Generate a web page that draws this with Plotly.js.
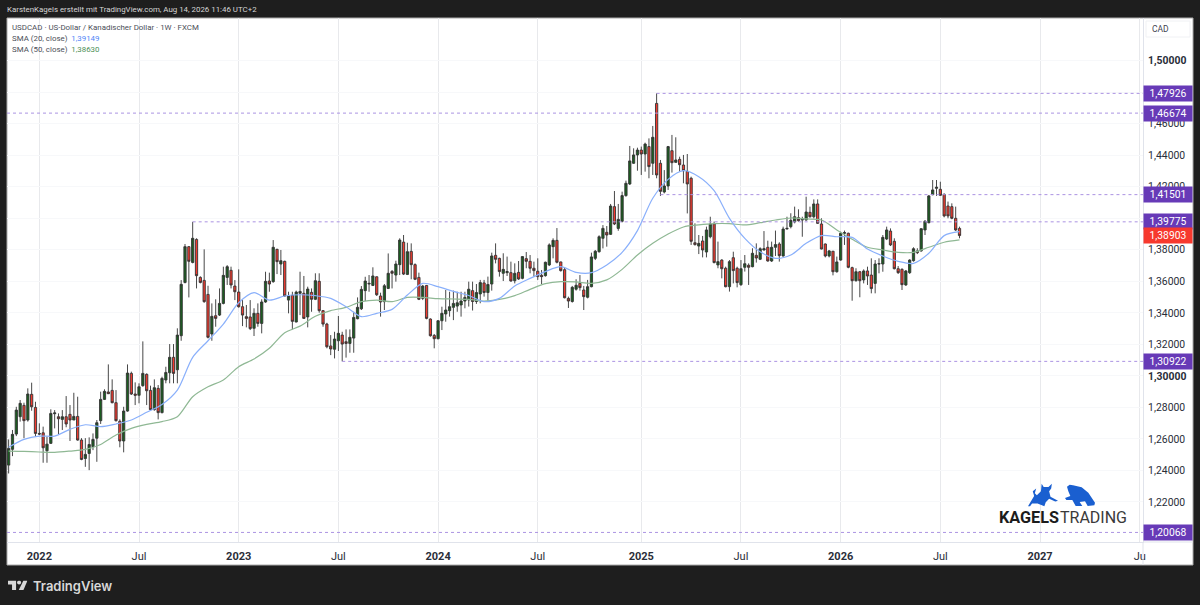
<!DOCTYPE html>
<html>
<head>
<meta charset="utf-8">
<script src="https://cdn.plot.ly/plotly-3.0.1.min.js"></script>
<style>html,body{margin:0;padding:0;background:#1e1e1e}#plot{width:1200px;height:605px}</style>
</head>
<body>
<div id="plot"></div>
<script>
// weekly USDCAD candles
const firstWeek = '2021-11-08';

const opens = [
  1.2434,1.2534,1.2631,1.2741,1.2813,1.2720,1.2883,1.2800,1.2635,1.2639,
  1.2525,1.2572,1.2760,1.2741,1.2724,1.2741,1.2756,1.2720,1.2743,1.2593,
  1.2476,1.2508,1.2551,1.2605,1.2716,1.2851,1.2898,1.2908,1.2830,1.2712,
  1.2587,1.2777,1.3016,1.2885,1.2877,1.2938,1.3010,1.2908,1.2786,1.2921,
  1.2767,1.2974,1.3020,1.3118,1.3039,1.3255,1.3593,1.3820,1.3720,1.3866,
  1.3625,1.3606,1.3517,1.3266,1.3382,1.3386,1.3460,1.3625,1.3670,1.3570,
  1.3532,1.3439,1.3376,1.3374,1.3302,1.3397,1.3333,1.3469,1.3602,1.3598,
  1.3803,1.3710,1.3727,1.3481,1.3511,1.3342,1.3524,1.3524,1.3374,1.3530,
  1.3486,1.3600,1.3414,1.3329,1.3190,1.3169,1.3223,1.3259,1.3217,1.3206,
  1.3240,1.3363,1.3426,1.3541,1.3583,1.3574,1.3629,1.3507,1.3471,1.3555,
  1.3663,1.3640,1.3706,1.3849,1.3644,1.3790,1.3706,1.3625,1.3492,1.3574,
  1.3361,1.3257,1.3236,1.3350,1.3393,1.3414,1.3435,1.3443,1.3450,1.3475,
  1.3482,1.3541,1.3472,1.3520,1.3590,1.3529,1.3583,1.3765,1.3746,1.3651,
  1.3655,1.3655,1.3604,1.3657,1.3619,1.3744,1.3727,1.3683,1.3664,1.3638,
  1.3636,1.3704,1.3820,1.3860,1.3723,1.3674,1.3492,1.3472,1.3550,1.3587,
  1.3545,1.3499,1.3566,1.3746,1.3788,1.3873,1.3911,1.3898,1.4074,1.3936,
  1.3981,1.4144,1.4218,1.4349,1.4402,1.4433,1.4408,1.4455,1.4349,1.4729,
  1.4349,1.4167,1.4205,1.4429,1.4355,1.4374,1.4338,1.4298,1.4254,1.3845,
  1.3824,1.3856,1.3786,1.3883,1.3964,1.3704,1.3735,1.3683,1.3566,1.3750,
  1.3683,1.3579,1.3689,1.3702,1.3693,1.3765,1.3740,1.3799,1.3816,1.3729,
  1.3816,1.3837,1.3761,1.3932,1.3947,1.3977,1.4004,1.3989,1.3989,1.4038,
  1.4010,1.4091,1.3964,1.3837,1.3761,1.3791,1.3661,1.3735,1.3905,1.3905,
  1.3687,1.3604,1.3661,1.3609,1.3666,1.3640,1.3587,1.3710,1.3710,1.3869,
  1.3919,1.3854,1.3680,1.3676,1.3577,1.3655,1.3731,1.3793,1.3793,1.3926,
  1.3972,1.4150,1.4190,1.4184,1.4152,1.4078,1.4074,1.4000,1.3936
];
const highs = [
  1.2597,1.2657,1.2804,1.2847,1.2830,1.2921,1.2957,1.2836,1.2699,1.2678,
  1.2614,1.2788,1.2783,1.2762,1.2783,1.2872,1.2815,1.2893,1.2868,1.2605,
  1.2605,1.2610,1.2635,1.2720,1.2900,1.2915,1.3073,1.2978,1.2910,1.2724,
  1.2804,1.3073,1.3027,1.2959,1.2953,1.3219,1.3016,1.2938,1.2978,1.2942,
  1.2995,1.3058,1.3202,1.3202,1.3302,1.3608,1.3837,1.3824,1.39775,1.3873,
  1.3632,1.3803,1.3572,1.3460,1.3486,1.3555,1.3693,1.3703,1.3693,1.3608,
  1.3676,1.3481,1.3450,1.3481,1.3429,1.3460,1.3486,1.3661,1.3655,1.3862,
  1.3807,1.3799,1.3731,1.3534,1.3534,1.3541,1.3661,1.3634,1.3566,1.3555,
  1.3651,1.3651,1.3418,1.3337,1.3259,1.3280,1.3380,1.3280,1.3295,1.3295,
  1.3407,1.3498,1.3570,1.3629,1.3640,1.3689,1.3631,1.3528,1.3583,1.3777,
  1.3672,1.3731,1.3873,1.3894,1.3845,1.3841,1.3714,1.3655,1.3577,1.3577,
  1.3365,1.3266,1.3354,1.3439,1.3545,1.3534,1.3541,1.3534,1.3534,1.3534,
  1.3598,1.3598,1.3583,1.3609,1.3609,1.3630,1.3782,1.3841,1.3750,1.3778,
  1.3757,1.3725,1.3714,1.3729,1.3760,1.3786,1.3767,1.3725,1.3746,1.3672,
  1.3725,1.3841,1.3873,1.3938,1.3725,1.3689,1.3503,1.3571,1.3613,1.3640,
  1.3571,1.3609,1.3782,1.3799,1.3892,1.3957,1.3951,1.4091,1.4173,1.4091,
  1.4169,1.4239,1.4459,1.4444,1.4448,1.4455,1.4480,1.4507,1.4586,1.47926,
  1.4370,1.4306,1.4459,1.4529,1.4514,1.4391,1.4402,1.4408,1.4264,1.3968,
  1.3894,1.3888,1.3947,1.4010,1.3979,1.3852,1.3740,1.3693,1.3735,1.3788,
  1.3693,1.3735,1.3767,1.3714,1.3810,1.3841,1.3816,1.3919,1.3858,1.3852,
  1.3922,1.3848,1.3947,1.4010,1.4032,1.4074,1.4057,1.4010,1.4137,1.4074,
  1.4120,1.4120,1.4000,1.3840,1.3799,1.3793,1.3757,1.3915,1.3922,1.3909,
  1.3693,1.3683,1.3666,1.3676,1.3693,1.3746,1.3735,1.3746,1.3894,1.3947,
  1.3936,1.3873,1.3697,1.3683,1.3672,1.3740,1.3816,1.3810,1.3936,1.3989,
  1.4148,1.4243,1.4243,1.4232,1.4158,1.4106,1.4095,1.4074,1.3947
];
const lows = [
  1.2381,1.2491,1.2618,1.2710,1.2605,1.2710,1.2779,1.2614,1.2625,1.2449,
  1.2449,1.2568,1.2667,1.2629,1.2657,1.2674,1.2587,1.2720,1.2589,1.2465,
  1.2423,1.2402,1.2529,1.2455,1.2695,1.2847,1.2885,1.2826,1.2710,1.2547,
  1.2515,1.2773,1.2879,1.2815,1.2826,1.2931,1.2815,1.2779,1.2779,1.2724,
  1.2762,1.2953,1.2953,1.2953,1.2953,1.3223,1.3587,1.3498,1.3714,1.3555,
  1.3587,1.3464,1.3238,1.3223,1.3312,1.3380,1.3454,1.3577,1.3555,1.3481,
  1.3433,1.3316,1.3308,1.3291,1.3253,1.3312,1.3270,1.3464,1.3534,1.3591,
  1.3646,1.3640,1.3503,1.3397,1.3295,1.3340,1.3386,1.3363,1.3308,1.3407,
  1.3481,1.3401,1.3312,1.3175,1.3132,1.3111,1.3158,1.30922,1.3116,1.3147,
  1.3147,1.3359,1.3418,1.3475,1.3534,1.3570,1.3507,1.3376,1.3418,1.3551,
  1.3555,1.3598,1.3640,1.3640,1.3640,1.3613,1.3608,1.3481,1.3481,1.3359,
  1.3249,1.3175,1.3232,1.3291,1.3344,1.3376,1.3354,1.3407,1.3376,1.3429,
  1.3440,1.3415,1.3457,1.3461,1.3503,1.3478,1.3541,1.3714,1.3630,1.3602,
  1.3634,1.3598,1.3587,1.3609,1.3613,1.3683,1.3651,1.3630,1.3609,1.3583,
  1.3630,1.3697,1.3746,1.3714,1.3662,1.3492,1.3431,1.3465,1.3541,1.3541,
  1.3418,1.3492,1.3562,1.3735,1.3782,1.3809,1.3820,1.3894,1.3957,1.3921,
  1.3974,1.4137,1.4211,1.4345,1.4302,1.4275,1.4296,1.4254,1.4275,1.4254,
  1.4142,1.4158,1.4180,1.4290,1.4353,1.4296,1.4222,1.4031,1.3831,1.3827,
  1.3773,1.3752,1.3752,1.3873,1.3714,1.3683,1.3619,1.3562,1.3535,1.3587,
  1.3562,1.3571,1.3662,1.3577,1.3689,1.3719,1.3735,1.3795,1.3725,1.3723,
  1.3761,1.3725,1.3757,1.3930,1.3936,1.3968,1.3979,1.3883,1.3985,1.4004,
  1.3999,1.3964,1.3803,1.3752,1.3752,1.3638,1.3655,1.3731,1.3831,1.3683,
  1.3477,1.3598,1.3499,1.3587,1.3577,1.3524,1.3524,1.3651,1.3661,1.3862,
  1.3824,1.3676,1.3647,1.3545,1.3571,1.3647,1.3725,1.3773,1.3788,1.3894,
  1.3968,1.4146,1.4142,1.4142,1.4006,1.4000,1.3994,1.3919,1.3873
];
const closes = [
  1.2540,1.2629,1.2783,1.2826,1.2716,1.2885,1.2804,1.2635,1.2631,1.2544,
  1.2567,1.2762,1.2765,1.2728,1.2741,1.2695,1.2720,1.2743,1.2593,1.2470,
  1.2502,1.2565,1.2597,1.2703,1.2851,1.2902,1.2887,1.2830,1.2716,1.2587,
  1.2777,1.3018,1.2885,1.2877,1.2931,1.3016,1.2906,1.2786,1.2925,1.2767,
  1.2984,1.3022,1.3118,1.3016,1.3259,1.3581,1.3820,1.3727,1.3873,1.3636,
  1.3593,1.3471,1.3245,1.3378,1.3365,1.3460,1.3638,1.3693,1.3577,1.3534,
  1.3439,1.3386,1.3365,1.3300,1.3397,1.3333,1.3469,1.3600,1.3583,1.3816,
  1.3725,1.3731,1.3507,1.3507,1.3346,1.3532,1.3536,1.3365,1.3551,1.3486,
  1.3604,1.3414,1.3329,1.3185,1.3171,1.3234,1.3270,1.3202,1.3206,1.3245,
  1.3371,1.3435,1.3549,1.3602,1.3587,1.3634,1.3515,1.3469,1.3572,1.3651,
  1.3651,1.3710,1.3862,1.3646,1.3788,1.3706,1.3613,1.3486,1.3570,1.3365,
  1.3255,1.3236,1.3350,1.3397,1.3418,1.3439,1.3460,1.3464,1.3475,1.3498,
  1.3550,1.3472,1.3529,1.3592,1.3529,1.3580,1.3761,1.3740,1.3662,1.3676,
  1.3662,1.3602,1.3651,1.3615,1.3757,1.3727,1.3683,1.3668,1.3630,1.3630,
  1.3721,1.3831,1.3860,1.3721,1.3668,1.3496,1.3475,1.3562,1.3575,1.3560,
  1.3503,1.3566,1.3755,1.3791,1.3883,1.3936,1.3894,1.4078,1.3964,1.3993,
  1.4144,1.4222,1.4364,1.4402,1.4433,1.4408,1.4471,1.4328,1.4514,1.4275,
  1.4171,1.4205,1.4455,1.4353,1.4370,1.4340,1.4302,1.4218,1.3854,1.3833,
  1.3841,1.3799,1.3926,1.3964,1.3719,1.3725,1.3680,1.3566,1.3725,1.3668,
  1.3592,1.3680,1.3712,1.3689,1.3778,1.3748,1.3807,1.3807,1.3729,1.3816,
  1.3833,1.3763,1.3932,1.3936,1.3987,1.4010,1.3985,1.3994,1.4040,1.4010,
  1.4091,1.3968,1.3805,1.3761,1.3793,1.3661,1.3723,1.3905,1.3909,1.3689,
  1.3604,1.3661,1.3604,1.3666,1.3634,1.3554,1.3710,1.3712,1.3879,1.3926,
  1.3831,1.3680,1.3655,1.3579,1.3666,1.3735,1.3807,1.3782,1.3934,1.3981,
  1.4142,1.4180,1.4197,1.4146,1.4015,1.4015,1.4000,1.3926,1.38903
];

// moving averages, read every 4th week
const sma20 = [
  1.2547,1.2597,1.2618,1.2618,1.2661,1.2690,1.2678,1.2695,1.2720,1.2769,
  1.2819,1.2910,1.3118,1.3223,1.3329,1.3464,1.3528,1.3481,1.3507,1.3515,
  1.3509,1.3492,1.3439,1.3376,1.3397,1.3422,1.3513,1.3587,1.3566,1.3536,
  1.3510,1.3471,1.3492,1.3571,1.3619,1.3662,1.3693,1.3657,1.3655,1.3704,
  1.3784,1.3922,1.4127,1.4247,1.4302,1.4264,1.4175,1.4000,1.3873,1.3788,
  1.3746,1.3767,1.3841,1.3890,1.3883,1.3879,1.3805,1.3761,1.3727,1.3714,
  1.3778,1.3890,1.39149
];
const sma50 = [
  1.2523,1.2521,1.2517,1.2515,1.2523,1.2534,1.2565,1.2625,1.2667,1.2693,
  1.2710,1.2741,1.2868,1.2931,1.2974,1.3058,1.3107,1.3175,1.3274,1.3316,
  1.3378,1.3414,1.3435,1.3471,1.3481,1.3471,1.3498,1.3498,1.3490,1.3488,
  1.3486,1.3475,1.3486,1.3509,1.3549,1.3585,1.3598,1.3596,1.3587,1.3609,
  1.3676,1.3767,1.3841,1.3900,1.3945,1.3958,1.3966,1.3966,1.3958,1.3972,
  1.3989,1.4002,1.3996,1.3989,1.3926,1.3867,1.3816,1.3799,1.3784,1.3784,
  1.3816,1.3848,1.38630
];

// marked price levels and where each one starts
const levels = [1.47926, 1.46674, 1.41501, 1.39775, 1.30922, 1.20068];
const levelStarts = ['2025-02-03', null, '2025-02-10', '2022-10-10', '2023-07-10', null];
const lastClose = 1.38903;

const priceTicks = [1.22,1.24,1.26,1.28,1.30,1.32,1.34,1.36,1.38,1.40,1.42,1.44,1.46,1.48,1.50];
const hiddenPriceLabels = [1.40, 1.48]; // sit fully behind the level badges
const timeTicks = ['2022-01-03','2022-07-04','2023-01-02','2023-07-03','2024-01-01','2024-07-01','2025-01-06','2025-07-07','2026-01-05','2026-07-06','2027-01-04','2027-07-05'];
const timeLabels = ['<b>2022</b>','Jul','<b>2023</b>','Jul','<b>2024</b>','Jul','<b>2025</b>','Jul','<b>2026</b>','Jul','<b>2027</b>','Ju'];

const xRange = ['2021-11-05', '2027-07-11'];
const yRange = [1.19461, 1.52709];

const weeks = opens.map((_, i) => {
  const d = new Date(firstWeek + 'T00:00:00Z');
  d.setUTCDate(d.getUTCDate() + 7 * i);
  return d.toISOString().slice(0, 10);
});
const smaWeeks = weeks.filter((_, i) => i % 4 === 0);

const FONT = 'Roboto, "Noto Sans", sans-serif';
const comma = v => v.toFixed(5).replace('.', ',');

// pixel helpers for the furniture around the plot
const L = 7, T = 18, W = 1136, H = 524;
const px = x => (x - L) / W;
const py = y => 1 - (y - T) / H;

const candles = {
  type: 'candlestick',
  x: weeks, open: opens, high: highs, low: lows, close: closes,
  increasing: { line: { color: '#333', width: 0.9 }, fillcolor: '#1b5e20' },
  decreasing: { line: { color: '#333', width: 0.9 }, fillcolor: '#f23a2f' },
  hoverinfo: 'skip'
};

const smaTrace = (y, color) => ({
  type: 'scatter', mode: 'lines', x: smaWeeks, y,
  line: { color, width: 1.2, shape: 'spline', smoothing: 0.8 },
  hoverinfo: 'skip'
});

const data = [smaTrace(sma50, '#8fb894'), smaTrace(sma20, '#8ab0fb'), candles];

const text = (x, y, t, size, color, extra) => Object.assign({
  xref: 'paper', yref: 'paper', x: px(x), y: py(y), text: t, showarrow: false,
  xanchor: 'left', yanchor: 'middle', font: { family: FONT, size, color }
}, extra);

const badge = (price, color) => ({
  xref: 'paper', yref: 'y', x: px(1143), y: price, text: comma(price),
  showarrow: false, xanchor: 'left', yanchor: 'middle', align: 'center',
  width: 46, height: 13, bgcolor: color, borderpad: 1,
  font: { family: FONT, size: 10.3, color: '#fff' }
});

const annotations = [
  text(10, 27.5, 'USDCAD · US-Dollar / Kanadischer Dollar · 1W · FXCM', 7.9, '#4a4e57'),
  text(10, 38.5, 'SMA (20, close)&nbsp;&nbsp;<span style="color:#4f86f7">1,39149</span>', 7.9, '#4a4e57'),
  text(10, 49.5, 'SMA (50, close)&nbsp;&nbsp;<span style="color:#4d8f56">1,38630</span>', 7.9, '#4a4e57'),
  text(1150, 29.5, 'CAD', 8.5, '#3f4350'),
  text(997, 517.5, '<b>KAGELS</b>', 16.2, '#1c1c1c'),
  text(1058, 517.5, 'TRADING', 16, '#3a3a3a'),
  text(31, 585.5, 'TradingView', 13, '#d8d8d8', { font: { family: 'Inter, sans-serif', size: 13, color: '#d8d8d8', weight: 600 } })
].concat(levels.map(v => badge(v, '#673ab7')), [badge(lastClose, '#f7392e')]);

const shapes = [
  { type: 'rect', xref: 'paper', yref: 'paper', layer: 'below', x0: 0, x1: px(1193), y0: py(565), y1: 1, fillcolor: '#fff', line: { color: '#aaa', width: 1 } },
  { type: 'line', xref: 'paper', yref: 'paper', x0: px(1143), x1: px(1143), y0: py(565), y1: py(542), line: { color: '#e0e3eb', width: 1 } },
  { type: 'line', xref: 'paper', yref: 'paper', x0: px(1143), x1: px(1193), y0: py(542), y1: py(542), line: { color: '#e0e3eb', width: 1 } },
  { type: 'rect', xref: 'paper', yref: 'paper', x0: px(1146), x1: px(1190), y0: py(37), y1: py(21), fillcolor: '#fff', line: { color: '#f0f1f4', width: 1 } }
].concat(levels.map((v, i) => ({
  type: 'line', xref: 'x', yref: 'y', x0: levelStarts[i] || xRange[0], x1: xRange[1], y0: v, y1: v,
  line: { color: '#ab93e2', width: 1, dash: '3px,3px' }
})));

const svgUri = s => 'data:image/svg+xml;utf8,' + encodeURIComponent(s);
const bullSvg = '<svg xmlns="http://www.w3.org/2000/svg" viewBox="0 0 88 70"><path fill="#1a5fd0" d="M0 68L18 38L14 24L24 16L20 30L26 36L38 24L40 2L46 12L60 12L70 2L68 16L62 24L66 40L88 52L80 54L62 46L52 56L48 68L28 60L12 60L6 68Z"/></svg>';
const bearSvg = '<svg xmlns="http://www.w3.org/2000/svg" viewBox="0 0 90 66"><path fill="#1a5fd0" d="M0 42L16 36L10 22L6 8L14 2L24 4L50 10L70 26L82 44L90 56L88 64L68 66L60 52L44 54L52 66L32 66L22 48L4 48Z"/></svg>';
const tvSvg = '<svg xmlns="http://www.w3.org/2000/svg" viewBox="0 0 58 28"><path fill="#d8d8d8" d="M0 0H24V28H12V12H0Z"/><circle fill="#d8d8d8" cx="33" cy="6" r="6"/><path fill="#d8d8d8" d="M46 0H58L46 28H32Z"/></svg>';

const images = [
  { source: svgUri(bullSvg), xref: 'paper', yref: 'paper', x: px(1028), y: py(483), sizex: 30 / W, sizey: 24 / H, xanchor: 'left', yanchor: 'top', sizing: 'stretch', layer: 'above' },
  { source: svgUri(bearSvg), xref: 'paper', yref: 'paper', x: px(1065), y: py(484), sizex: 30 / W, sizey: 22 / H, xanchor: 'left', yanchor: 'top', sizing: 'stretch', layer: 'above' },
  { source: svgUri(tvSvg), xref: 'paper', yref: 'paper', x: px(8), y: py(580.5), sizex: 19.5 / W, sizey: 9.5 / H, xanchor: 'left', yanchor: 'top', sizing: 'stretch', layer: 'above' }
];

const layout = {
  width: 1200, height: 605,
  margin: { l: L, r: 1200 - L - W, t: T, b: 605 - T - H, pad: 0 },
  paper_bgcolor: '#1e1e1e', plot_bgcolor: '#fff',
  showlegend: false, hovermode: false,
  separators: ',.',
  title: {
    text: 'KarstenKagels erstellt mit TradingView.com, Aug 14, 2026 11:46 UTC+2',
    x: 7 / 1200, xanchor: 'left', y: 1 - 9.5 / 605, yanchor: 'middle',
    font: { family: FONT, size: 7.9, color: '#d6d6d6' }
  },
  xaxis: {
    type: 'date', range: xRange, rangeslider: { visible: false },
    tickmode: 'array', tickvals: timeTicks, ticktext: timeLabels, tickangle: 0,
    ticks: '', showgrid: true, gridcolor: '#e8e9ec', gridwidth: 1,
    showline: true, linecolor: '#e0e3eb', linewidth: 1, zeroline: false,
    tickfont: { family: FONT, size: 11, color: '#2a2e39' }, ticklabelstandoff: 4
  },
  yaxis: {
    side: 'right', range: yRange,
    tickmode: 'array', tickvals: priceTicks, tickformat: '.5f',
    ticktext: priceTicks.map(v => {
      if (hiddenPriceLabels.includes(v)) return '';
      return (v === 1.5 || v === 1.3) ? '<b>' + comma(v) + '</b>' : comma(v);
    }),
    ticks: '', showgrid: true, gridcolor: '#f7f8fa', gridwidth: 1,
    showline: true, linecolor: '#e0e3eb', linewidth: 1, zeroline: false,
    tickfont: { family: FONT, size: 10.4, color: '#2a2e39' }, ticklabelstandoff: 2
  },
  boxgap: 0.16,
  annotations, shapes, images
};

Plotly.newPlot('plot', data, layout, { displayModeBar: false, staticPlot: true });
</script>
</body>
</html>
